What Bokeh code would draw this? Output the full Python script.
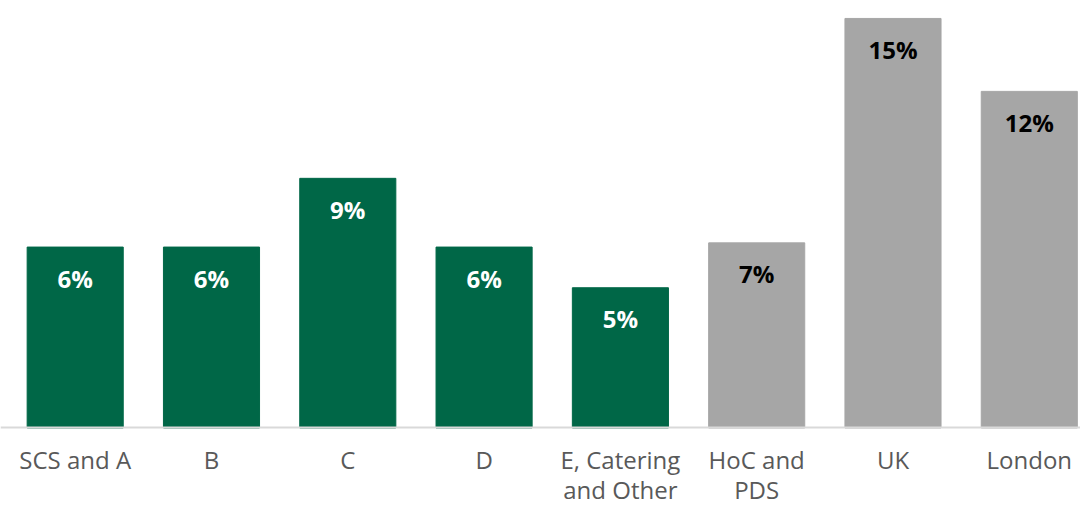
from bokeh.plotting import figure
from bokeh.models import ColumnDataSource, FixedTicker, Range1d
from bokeh.embed import file_html
from bokeh.resources import INLINE
from bokeh.core.properties import value

categories = ["SCS and A", "B", "C", "D", "E, Catering\nand Other", "HoC and\nPDS", "UK", "London"]
values = [6.45, 6.45, 8.9, 6.45, 5.0, 6.6, 14.6, 12.0]
labels = ["6%", "6%", "9%", "6%", "5%", "7%", "15%", "12%"]
groups = ["dept", "dept", "dept", "dept", "dept", "bench", "bench", "bench"]

bar_colors = {"dept": "#006747", "bench": "#A6A6A6"}
text_colors = {"dept": "#FFFFFF", "bench": "#000000"}

xs = list(range(len(categories)))
src = ColumnDataSource(dict(
    x=xs,
    v=values,
    label=labels,
    color=[bar_colors[g] for g in groups],
    tc=[text_colors[g] for g in groups],
))

p = figure(width=1080, height=505,
           x_range=Range1d(-0.548, 7.3757), y_range=Range1d(-2.763, 15.24),
           output_backend="svg", toolbar_location=None,
           min_border_left=0, min_border_right=0, min_border_top=0, min_border_bottom=0)

p.vbar(x="x", top="v", width=0.705, color="color", source=src)
p.text(x="x", y="v", text="label", text_color="tc", text_font=value("Open Sans"),
       text_font_style="bold", text_font_size="24px", text_align="center",
       text_baseline="middle", y_offset=31, source=src)

p.yaxis.visible = False
p.xgrid.visible = False
p.ygrid.visible = False
p.outline_line_color = None

ax = p.xaxis[0]
ax.fixed_location = 0
ax.ticker = FixedTicker(ticks=xs)
ax.major_label_overrides = {i: c for i, c in zip(xs, categories)}
ax.major_tick_in = 0
ax.major_tick_out = 0
ax.minor_tick_in = 0
ax.minor_tick_out = 0
ax.axis_line_color = "#D9D9D9"
ax.axis_line_width = 2
ax.major_label_text_font = "Open Sans"
ax.major_label_text_font_size = "24px"
ax.major_label_text_color = "#595959"
ax.major_label_text_line_height = 0.92
ax.major_label_standoff = 15

open("out.html", "w").write(file_html(p, INLINE))
